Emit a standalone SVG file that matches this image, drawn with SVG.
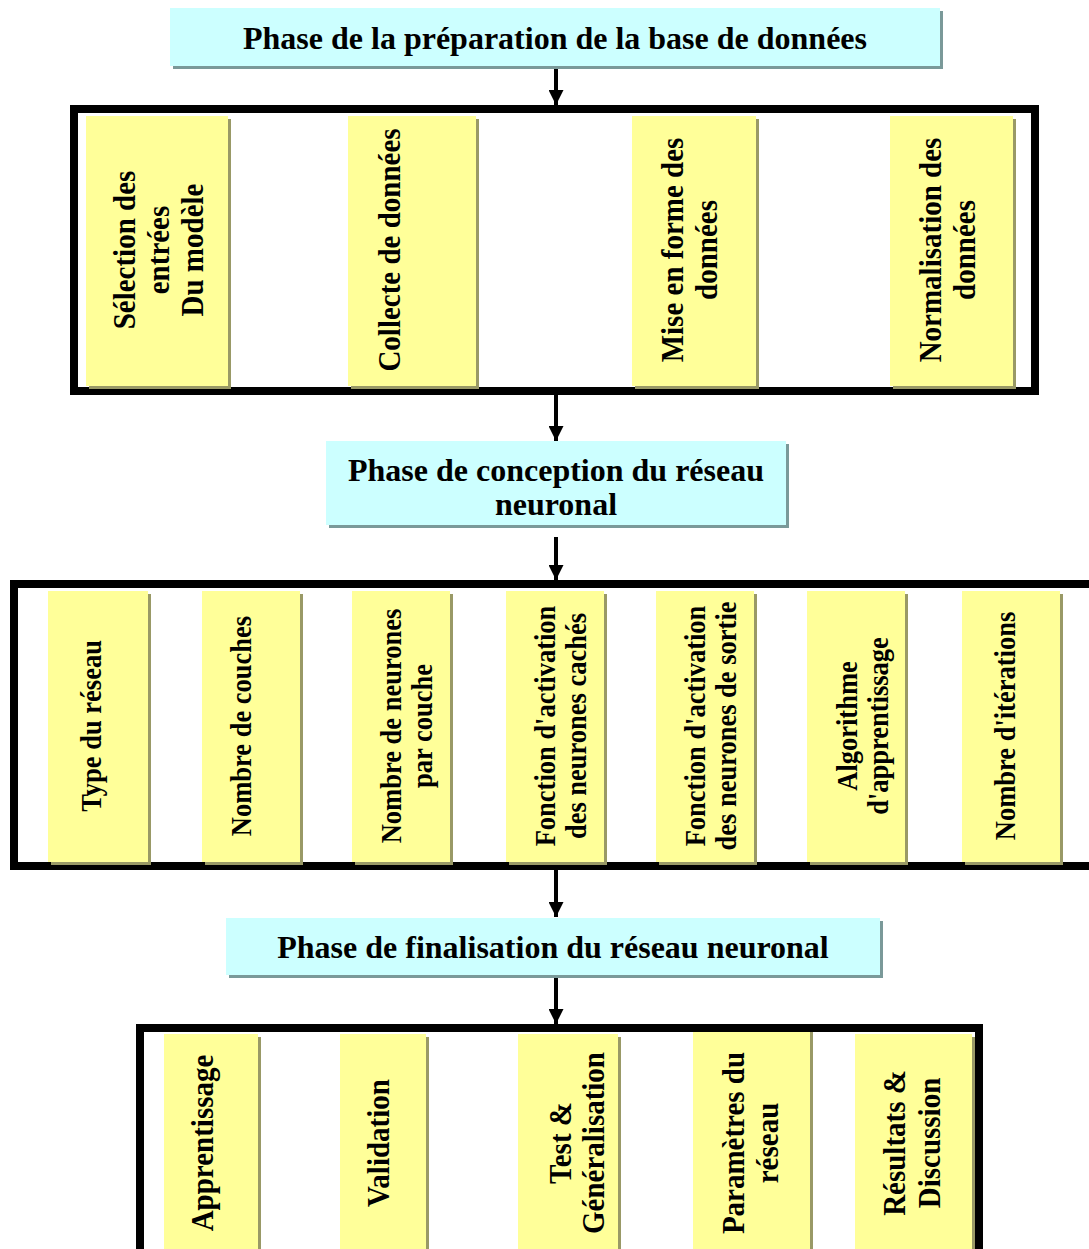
<svg xmlns="http://www.w3.org/2000/svg" width="1089" height="1249" viewBox="0 0 1089 1249">
<style>
.hdr{fill:#ccffff}
.hsh{fill:#7a9999}
.box{fill:none;stroke:#000;stroke-width:8}
.card{fill:#ffff99}
.csh{fill:#999966}
text{font-family:"Liberation Serif","Times New Roman",serif;font-weight:bold;fill:#000}
.ht{font-size:32px;text-anchor:middle}
.t1{font-size:29px;text-anchor:middle;dominant-baseline:central}
.t2{font-size:26.5px;text-anchor:middle;dominant-baseline:central}
.t3{font-size:29px;text-anchor:middle;dominant-baseline:central}
.conn{stroke:#000;stroke-width:4;fill:none}
</style>
<defs>
<marker id="ah" viewBox="0 0 10 10" refX="10" refY="5" markerWidth="15" markerHeight="15" orient="auto" markerUnits="userSpaceOnUse">
<path d="M0,0 L10,5 L0,10 z" fill="#000"/>
</marker>
</defs>
<rect width="1089" height="1249" fill="#fff"/>

<g id="connectors">
<line class="conn" x1="556" y1="69" x2="556" y2="105" marker-end="url(#ah)"/>
<line class="conn" x1="556" y1="395" x2="556" y2="441" marker-end="url(#ah)"/>
<line class="conn" x1="556" y1="537" x2="556" y2="580" marker-end="url(#ah)"/>
<line class="conn" x1="556" y1="870" x2="556" y2="917" marker-end="url(#ah)"/>
<line class="conn" x1="556" y1="978" x2="556" y2="1024" marker-end="url(#ah)"/>
</g>

<g id="phase1">
<rect class="hsh" x="173" y="11" width="770" height="58"/>
<rect class="hdr" x="170" y="8" width="770" height="58"/>
<text class="ht" x="555" y="49">Phase de la préparation de la base de données</text>
</g>

<g id="prep-box">
<rect class="box" x="74" y="109" width="961" height="282"/>
<g id="p-selection">
<rect class="csh" x="89" y="119" width="142" height="270"/>
<rect class="card" x="86" y="116" width="142" height="270"/>
<text class="t1" transform="translate(125,250) rotate(-90) scale(1,1.08)">Sélection des</text>
<text class="t1" transform="translate(159,250) rotate(-90) scale(1,1.08)">entrées</text>
<text class="t1" transform="translate(193,250) rotate(-90) scale(1,1.08)">Du modèle</text>
</g>
<g id="p-collecte">
<rect class="csh" x="351" y="119" width="128" height="270"/>
<rect class="card" x="348" y="116" width="128" height="270"/>
<text class="t1" transform="translate(390,250) rotate(-90) scale(1,1.08)">Collecte de données</text>
</g>
<g id="p-miseenforme">
<rect class="csh" x="635" y="119" width="124" height="270"/>
<rect class="card" x="632" y="116" width="124" height="270"/>
<text class="t1" transform="translate(673,250) rotate(-90) scale(1,1.08)">Mise en forme des</text>
<text class="t1" transform="translate(707,250) rotate(-90) scale(1,1.08)">données</text>
</g>
<g id="p-normalisation">
<rect class="csh" x="893" y="119" width="123" height="270"/>
<rect class="card" x="890" y="116" width="123" height="270"/>
<text class="t1" transform="translate(931,250) rotate(-90) scale(1,1.08)">Normalisation des</text>
<text class="t1" transform="translate(965,250) rotate(-90) scale(1,1.08)">données</text>
</g>
</g>

<g id="phase2">
<rect class="hsh" x="329" y="444" width="460" height="84"/>
<rect class="hdr" x="326" y="441" width="460" height="84"/>
<text class="ht" x="556" y="481">Phase de conception du réseau</text>
<text class="ht" x="556" y="515">neuronal</text>
</g>

<g id="design-box">
<rect class="box" x="14" y="584" width="1090" height="282"/>
<g id="d-type">
<rect class="csh" x="51" y="594" width="100" height="271"/>
<rect class="card" x="48" y="591" width="100" height="271"/>
<text class="t2" transform="translate(91,726) rotate(-90) scale(1,1.08)">Type du réseau</text>
</g>
<g id="d-couches">
<rect class="csh" x="205" y="594" width="98" height="271"/>
<rect class="card" x="202" y="591" width="98" height="271"/>
<text class="t2" transform="translate(241,726) rotate(-90) scale(1,1.08)">Nombre de couches</text>
</g>
<g id="d-neurones">
<rect class="csh" x="355" y="594" width="98" height="271"/>
<rect class="card" x="352" y="591" width="98" height="271"/>
<text class="t2" transform="translate(391,726) rotate(-90) scale(1,1.08)">Nombre de neurones</text>
<text class="t2" transform="translate(422,726) rotate(-90) scale(1,1.08)">par couche</text>
</g>
<g id="d-activation-caches">
<rect class="csh" x="509" y="594" width="98" height="271"/>
<rect class="card" x="506" y="591" width="98" height="271"/>
<text class="t2" transform="translate(545,726) rotate(-90) scale(1,1.08)">Fonction d'activation</text>
<text class="t2" transform="translate(576,726) rotate(-90) scale(1,1.08)">des neurones cachés</text>
</g>
<g id="d-activation-sortie">
<rect class="csh" x="659" y="594" width="98" height="271"/>
<rect class="card" x="656" y="591" width="98" height="271"/>
<text class="t2" transform="translate(695,726) rotate(-90) scale(1,1.08)">Fonction d'activation</text>
<text class="t2" transform="translate(726,726) rotate(-90) scale(1,1.08)">des neurones de sortie</text>
</g>
<g id="d-algorithme">
<rect class="csh" x="810" y="594" width="98" height="271"/>
<rect class="card" x="807" y="591" width="98" height="271"/>
<text class="t2" transform="translate(847,726) rotate(-90) scale(1,1.08)">Algorithme</text>
<text class="t2" transform="translate(878,726) rotate(-90) scale(1,1.08)">d'apprentissage</text>
</g>
<g id="d-iterations">
<rect class="csh" x="965" y="594" width="98" height="271"/>
<rect class="card" x="962" y="591" width="98" height="271"/>
<text class="t2" transform="translate(1005,726) rotate(-90) scale(1,1.08)">Nombre d'itérations</text>
</g>
</g>

<g id="phase3">
<rect class="hsh" x="229" y="921" width="654" height="57"/>
<rect class="hdr" x="226" y="918" width="654" height="57"/>
<text class="ht" x="553" y="958">Phase de finalisation du réseau neuronal</text>
</g>

<g id="final-box">
<rect class="box" x="140" y="1028" width="839" height="240"/>
<g id="f-apprentissage">
<rect class="csh" x="167" y="1037" width="94" height="230"/>
<rect class="card" x="164" y="1034" width="94" height="230"/>
<text class="t3" transform="translate(203,1143) rotate(-90) scale(1,1.08)">Apprentissage</text>
</g>
<g id="f-validation">
<rect class="csh" x="343" y="1037" width="86" height="230"/>
<rect class="card" x="340" y="1034" width="86" height="230"/>
<text class="t3" transform="translate(379,1143) rotate(-90) scale(1,1.08)">Validation</text>
</g>
<g id="f-test">
<rect class="csh" x="521" y="1037" width="100" height="230"/>
<rect class="card" x="518" y="1034" width="100" height="230"/>
<text class="t3" transform="translate(561,1143) rotate(-90) scale(1,1.08)">Test &amp;</text>
<text class="t3" transform="translate(594,1143) rotate(-90) scale(1,1.08)">Généralisation</text>
</g>
<g id="f-parametres">
<rect class="csh" x="696" y="1032" width="117" height="230"/>
<rect class="card" x="693" y="1032" width="117" height="230"/>
<text class="t3" transform="translate(734,1143) rotate(-90) scale(1,1.08)">Paramètres du</text>
<text class="t3" transform="translate(768,1143) rotate(-90) scale(1,1.08)">réseau</text>
</g>
<g id="f-resultats">
<rect class="csh" x="858" y="1037" width="117" height="230"/>
<rect class="card" x="855" y="1034" width="117" height="230"/>
<text class="t3" transform="translate(895,1143) rotate(-90) scale(1,1.08)">Résultats &amp;</text>
<text class="t3" transform="translate(930,1143) rotate(-90) scale(1,1.08)">Discussion</text>
</g>
</g>
</svg>
